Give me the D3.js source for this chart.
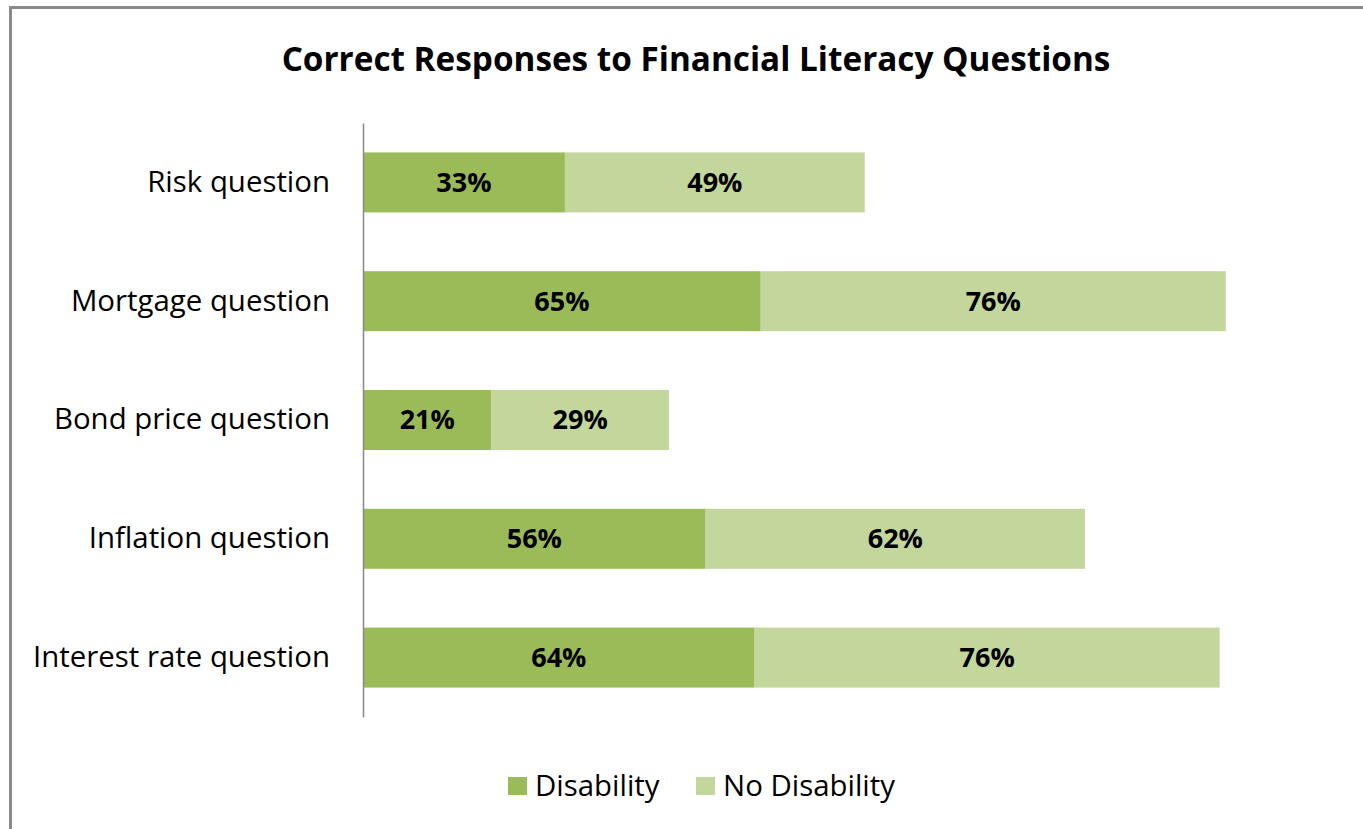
<!DOCTYPE html>
<html>
<head>
<meta charset="utf-8">
<script src="https://cdn.jsdelivr.net/npm/d3@7"></script>
<style>
  body { margin: 0; background: #fff; }
  svg { display: block; font-family: "Open Sans", Lato, sans-serif; }
</style>
</head>
<body>
<div class="chart"></div>
<script>
// data
const categories = ['Risk question', 'Mortgage question', 'Bond price question', 'Inflation question', 'Interest rate question']
const disability = [33, 65, 21, 56, 64]
const noDisability = [49, 76, 29, 62, 76]
const seriesNames = ['Disability', 'No Disability']
const colors = ['#9bbb59', '#c3d69b']

const width = 1363
const height = 829

const svg = d3.select('.chart')
    .append('svg')
    .attr('width', width)
    .attr('height', height)

// chart frame (right and bottom edges fall outside the picture)
svg.append('rect')
    .attr('x', 10.5)
    .attr('y', 7.5)
    .attr('width', 1400)
    .attr('height', 900)
    .style('fill', 'none')
    .style('stroke', '#898989')
    .style('stroke-width', 3)

svg.append('text')
    .attr('x', 696)
    .attr('y', 71)
    .attr('text-anchor', 'middle')
    .style('font-size', '33.3px')
    .style('font-weight', 'bold')
    .style('fill', '#000')
    .text('Correct Responses to Financial Literacy Questions')

const rows = categories.map((c, i) => ({ cat: c, vals: [disability[i], noDisability[i]] }))
const stack = d3.stack().keys([0, 1]).value((d, k) => d.vals[k])
const layers = stack(rows)

const x = d3.scaleLinear().domain([0, 160]).range([363, 1342])
const y = d3.scaleBand()
    .domain(categories)
    .range([123, 717])
    .paddingInner(0.495)
    .paddingOuter(0.2475)

const g = svg.append('g')

layers.forEach((layer, k) => {
    g.selectAll('rect.s' + k)
        .data(layer)
        .enter()
        .append('rect')
        .attr('class', 's' + k)
        .attr('x', d => x(d[0]))
        .attr('y', d => y(d.data.cat))
        .attr('width', d => x(d[1]) - x(d[0]))
        .attr('height', y.bandwidth())
        .style('fill', colors[k])

    g.selectAll('text.l' + k)
        .data(layer)
        .enter()
        .append('text')
        .attr('class', 'l' + k)
        .attr('x', d => (x(d[0]) + x(d[1])) / 2)
        .attr('y', d => y(d.data.cat) + y.bandwidth() / 2)
        .attr('dy', '0.35em')
        .attr('text-anchor', 'middle')
        .style('font-size', '27px')
        .style('font-weight', 'bold')
        .text(d => d.data.vals[k] + '%')
})

// category axis
const yAxis = svg.append('g')
    .attr('transform', 'translate(363,0)')
    .call(d3.axisLeft(y).tickSize(0).tickPadding(33))
yAxis.select('.domain').style('stroke', '#898989').style('stroke-width', 1.5)
yAxis.selectAll('text')
    .style('font-size', '29.4px')
    .style('font-family', '"Open Sans", Lato, sans-serif')
    .style('fill', '#000')

// legend
const legendX = [508, 696]
const legend = svg.selectAll('g.legend')
    .data(seriesNames)
    .enter()
    .append('g')
    .attr('class', 'legend')
    .attr('transform', (d, i) => `translate(${legendX[i]},777)`)
legend.append('rect')
    .attr('width', 19)
    .attr('height', 18)
    .style('fill', (d, i) => colors[i])
legend.append('text')
    .attr('x', 27)
    .attr('y', 9)
    .attr('dy', '0.35em')
    .style('font-size', '29.4px')
    .text(d => d)
</script>
</body>
</html>
